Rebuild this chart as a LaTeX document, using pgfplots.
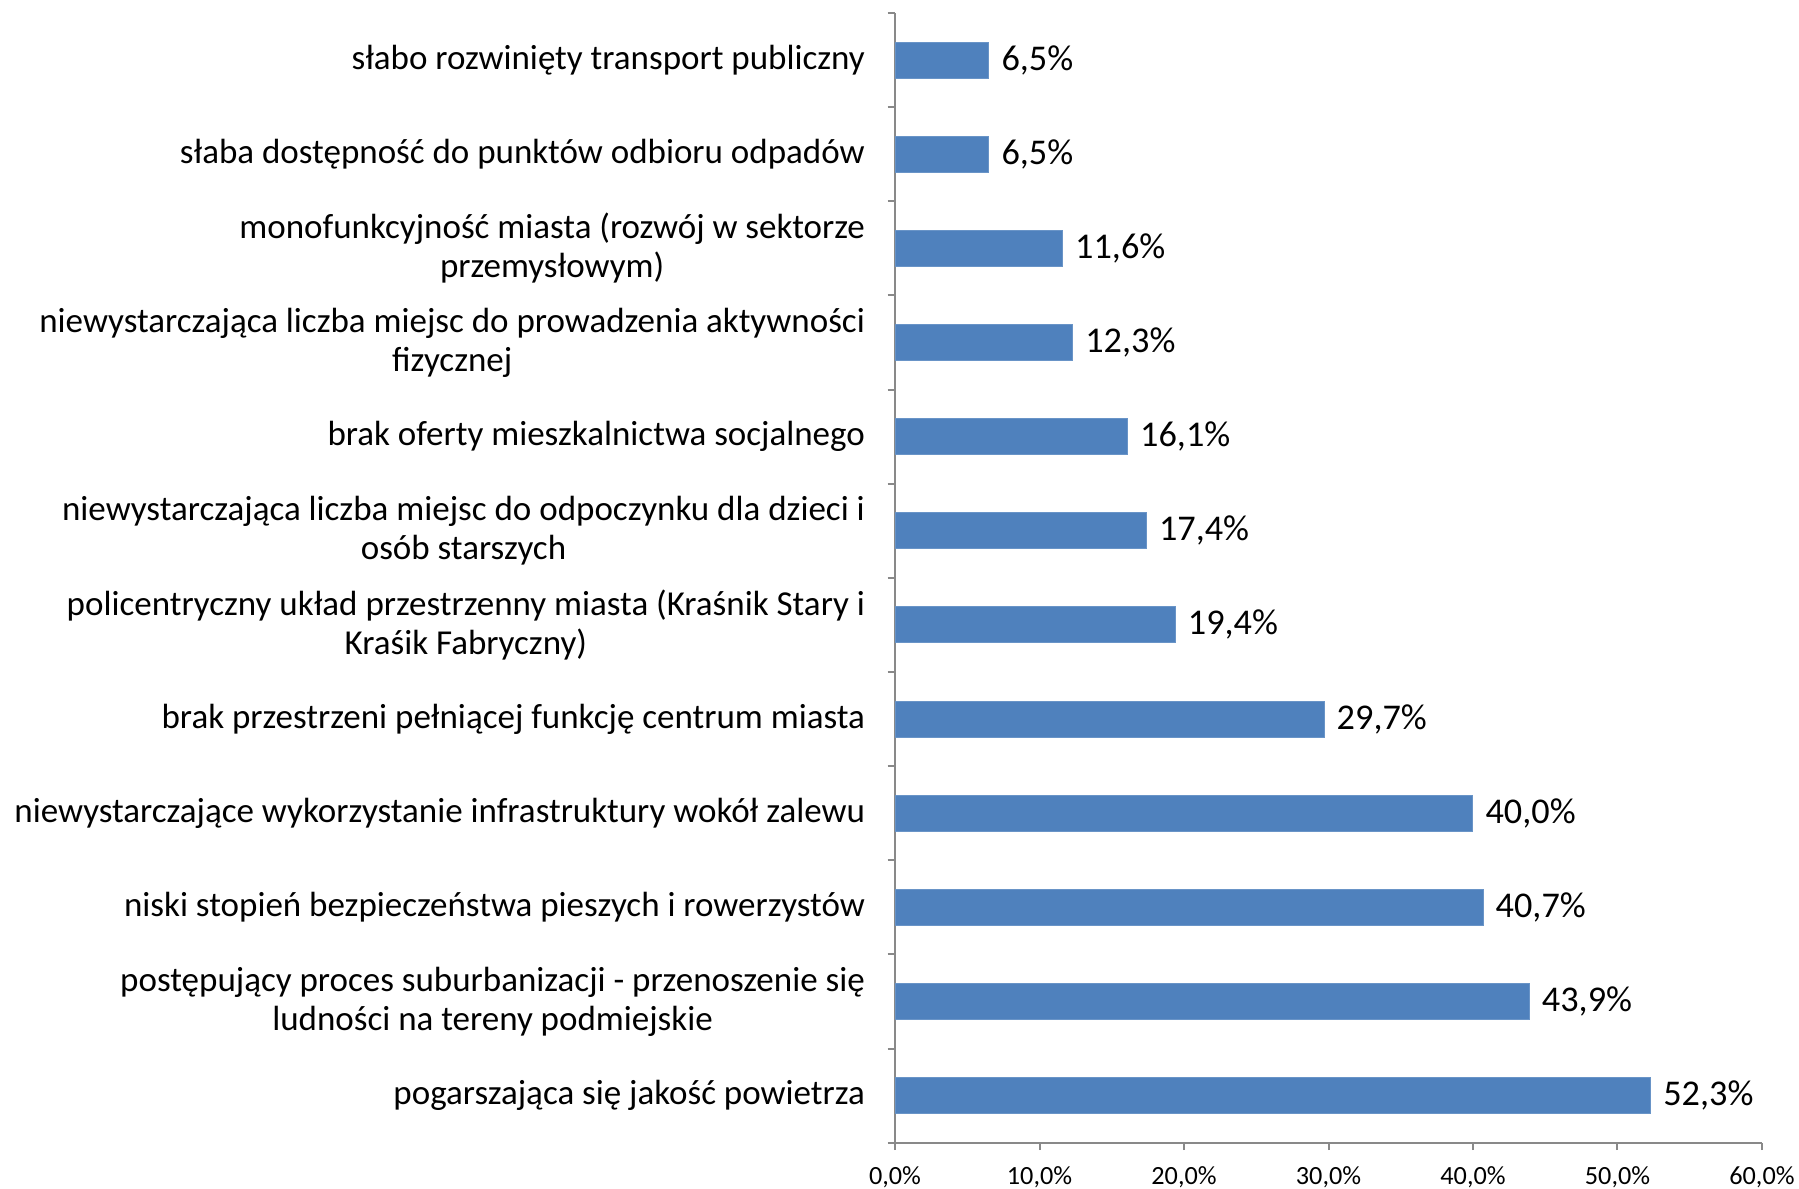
\documentclass[border=0pt]{standalone}
\usepackage{pgfplots}
\pgfplotsset{compat=1.18}
\usepackage{fontspec}
\setmainfont{Carlito}
\definecolor{barblue}{HTML}{4F81BD}
\definecolor{axgray}{HTML}{898989}
\pgfplotstableread{
pos v lab
0 52.3 52,3\%
1 43.9 43,9\%
2 40.7 40,7\%
3 40.0 40,0\%
4 29.7 29,7\%
5 19.4 19,4\%
6 17.4 17,4\%
7 16.1 16,1\%
8 12.3 12,3\%
9 11.6 11,6\%
10 6.5 6,5\%
11 6.5 6,5\%
}\datatable
\begin{document}
\begin{tikzpicture}
\useasboundingbox (0,0) rectangle (719.6pt,475.6pt);
\begin{axis}[
  at={(358pt,18.5pt)}, anchor=south west,
  scale only axis, width=346.8pt, height=451.9pt,
  xbar, bar width=14.4pt,
  xmin=0, xmax=60, ymin=-0.5, ymax=11.5,
  axis lines=left, axis line style={axgray, -, line width=0.8pt},
  tick style={axgray, line width=0.8pt},
  tick align=outside, major tick length=3pt,
  xtick={0,10,...,60},
  xticklabels={{0,0\%},{10,0\%},{20,0\%},{30,0\%},{40,0\%},{50,0\%},{60,0\%}},
  x tick label style={font=\fontsize{10.5}{12.6}\selectfont, anchor=base, yshift=-13.9pt},
  ytick={-0.5,0.5,...,11.5},
  yticklabels={},
  extra y ticks={0,1,2,3,4,5,6,7,8,9,10,11},
  extra y tick style={major tick length=0pt},
  extra y tick labels={
    {pogarszająca się jakość powietrza},
    {postępujący proces suburbanizacji - przenoszenie się\\ludności na tereny podmiejskie},
    {niski stopień bezpieczeństwa pieszych i rowerzystów},
    {niewystarczające wykorzystanie infrastruktury wokół zalewu},
    {brak przestrzeni pełniącej funkcję centrum miasta},
    {policentryczny układ przestrzenny miasta (Kraśnik Stary i\\Kraśik Fabryczny)},
    {niewystarczająca liczba miejsc do odpoczynku dla dzieci i\\osób starszych},
    {brak oferty mieszkalnictwa socjalnego},
    {niewystarczająca liczba miejsc do prowadzenia aktywności\\fizycznej},
    {monofunkcyjność miasta (rozwój w sektorze\\przemysłowym)},
    {słaba dostępność do punktów odbioru odpadów},
    {słabo rozwinięty transport publiczny}},
  yticklabel style={align=center, font=\fontsize{14}{15.5}\selectfont, xshift=-8.5pt},
  point meta=explicit symbolic,
  nodes near coords,
  nodes near coords style={font=\fontsize{14.5}{17}\selectfont, text=black, anchor=west, xshift=1.5pt},
]
\addplot[fill=barblue, draw=barblue!85!white] table[x=v, y=pos, meta=lab] {\datatable};
\end{axis}
\end{tikzpicture}
\end{document}
